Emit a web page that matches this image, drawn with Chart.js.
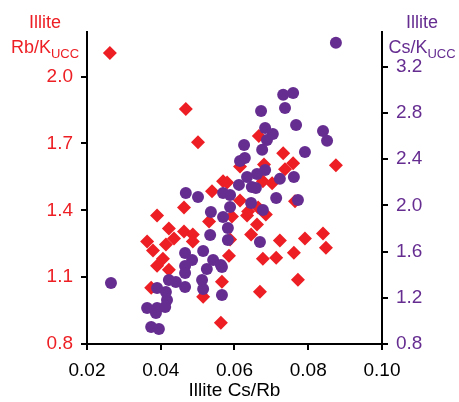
<!DOCTYPE html>
<html>
<head>
<meta charset="utf-8">
<script src="https://cdn.jsdelivr.net/npm/chart.js@4"></script>
<style>
  body { margin: 0; background: #fff; }
  #wrap { position: relative; width: 459px; height: 402px; }
  .ytitle { position: absolute; font-family: "Liberation Sans", Arial, sans-serif; font-size: 18px; line-height: 25px; text-align: center; }
  .ytitle sub { font-size: 13px; vertical-align: -5px; line-height: 0; }
</style>
</head>
<body>
<div id="wrap">
  <canvas id="chart" width="459" height="402"></canvas>
  <div class="ytitle" style="left:-3px; top:10px; width:96px; color:#ed1f24;">Illite<br>Rb/K<sub>UCC</sub></div>
  <div class="ytitle" style="left:382px; top:10px; width:80px; color:#662d91;">Illite<br>Cs/K<sub>UCC</sub></div>
</div>
<script>
var RED = "#ed1f24";
var PURPLE = "#662d91";

// Illite Cs/Rb vs Rb/K_UCC (left axis, diamonds)
var rbX = [0.0262, 0.0468, 0.0501, 0.0569, 0.0539, 0.0463, 0.0390, 0.0422, 0.0363, 0.0379,
           0.0414, 0.0436, 0.0463, 0.0487, 0.0406, 0.0390, 0.0422, 0.0374, 0.0566, 0.0515,
           0.0563, 0.0531, 0.0487, 0.0666, 0.0732, 0.0680, 0.0759, 0.0737, 0.0875, 0.0615,
           0.0677, 0.0702, 0.0791, 0.0840, 0.0848, 0.0723, 0.0761, 0.0677, 0.0713, 0.0772,
           0.0669, 0.0585, 0.0645, 0.0661, 0.0634, 0.0685, 0.0764, 0.0588, 0.0615, 0.0664,
           0.0637, 0.0580, 0.0593];
var rbY = [2.106, 1.854, 1.705, 1.530, 1.485, 1.413, 1.377, 1.318, 1.260, 1.219,
           1.246, 1.273, 1.305, 1.291, 1.183, 1.151, 1.133, 1.052, 1.079, 1.012,
           0.895, 1.350, 1.260, 1.733, 1.656, 1.606, 1.611, 1.584, 1.602, 1.597,
           1.530, 1.521, 1.273, 1.296, 1.232, 1.264, 1.210, 1.183, 1.187, 1.088,
           1.034, 1.196, 1.291, 1.336, 1.377, 1.381, 1.440, 1.269, 1.444, 1.413,
           1.395, 1.525, 1.372];

// Illite Cs/Rb vs Cs/K_UCC (right axis, circles)
var csX = [0.0265, 0.0875, 0.0732, 0.0759, 0.0672, 0.0737, 0.0767, 0.0683, 0.0704, 0.0688,
           0.0675, 0.0626, 0.0840, 0.0851, 0.0791, 0.0628, 0.0615, 0.0634, 0.0661, 0.0683,
           0.0723, 0.0761, 0.0612, 0.0647, 0.0468, 0.0501, 0.0569, 0.0536, 0.0569, 0.0534,
           0.0588, 0.0588, 0.0582, 0.0582, 0.0658, 0.0713, 0.0772, 0.0677, 0.0645, 0.0669,
           0.0566, 0.0566, 0.0466, 0.0515, 0.0485, 0.0542, 0.0563, 0.0466, 0.0525, 0.0512,
           0.0466, 0.0422, 0.0441, 0.0466, 0.0515, 0.0390, 0.0414, 0.0417, 0.0363, 0.0390,
           0.0412, 0.0387, 0.0374, 0.0395];
var csY = [1.328, 3.406, 2.956, 2.973, 2.817, 2.843, 2.696, 2.670, 2.618, 2.566,
           2.480, 2.523, 2.644, 2.558, 2.462, 2.410, 2.384, 2.246, 2.272, 2.306,
           2.229, 2.246, 2.177, 2.159, 2.107, 2.073, 2.107, 1.943, 1.900, 1.744,
           2.090, 1.986, 1.804, 1.700, 2.151, 2.064, 2.047, 1.960, 2.021, 1.683,
           1.467, 1.224, 1.588, 1.605, 1.527, 1.527, 1.484, 1.475, 1.449, 1.354,
           1.415, 1.354, 1.337, 1.294, 1.276, 1.285, 1.250, 1.181, 1.112, 1.112,
           1.120, 1.068, 0.947, 0.930];

var xTicks = [0.02, 0.04, 0.06, 0.08, 0.10];
var leftTicks = [0.8, 1.1, 1.4, 1.7, 2.0];
var rightTicks = [0.8, 1.2, 1.6, 2.0, 2.4, 2.8, 3.2];

function pts(xs, ys) {
    var out = [];
    for (var i = 0; i < xs.length; i++) out.push({x: xs[i], y: ys[i]});
    return out;
}

function fixTicks(list) {
    return function(scale) {
        scale.ticks = list.map(function(v){ return {value: v}; });
    };
}

var font = {family: "'Liberation Sans', Arial, sans-serif", size: 19};
var axisGrid = {drawOnChartArea: false, drawTicks: true, tickLength: 6, color: "#000", lineWidth: 2};
var axisBorder = {display: true, color: "#000", width: 2};

var ctx = document.getElementById("chart").getContext("2d");
var chart = new Chart(ctx, {
    type: "scatter",
    data: {
        datasets: [{
            label: "Cs/K UCC",
            data: pts(csX, csY),
            yAxisID: "yR",
            pointStyle: "circle",
            pointRadius: 6,
            pointHoverRadius: 6,
            backgroundColor: PURPLE,
            borderColor: PURPLE,
            borderWidth: 0
        }, {
            label: "Rb/K UCC",
            data: pts(rbX, rbY),
            yAxisID: "yL",
            pointStyle: "rectRot",
            pointRadius: 7,
            pointHoverRadius: 7,
            backgroundColor: RED,
            borderColor: RED,
            borderWidth: 0
        }]
    },
    options: {
        responsive: false,
        animation: false,
        layout: {padding: {top: 32, left: 0, right: 0, bottom: 0}},
        plugins: {legend: {display: false}, tooltip: {enabled: false}},
        scales: {
            x: {
                type: "linear",
                min: 0.02, max: 0.10,
                afterBuildTicks: fixTicks(xTicks),
                afterFit: function(s){ s.height = 58; },
                grid: axisGrid,
                border: axisBorder,
                ticks: {color: "#000", font: font, padding: 9, maxRotation: 0,
                        callback: function(v){ return v.toFixed(2); }},
                title: {display: true, text: "Illite Cs/Rb", color: "#000", font: font, padding: {top: 0, bottom: 0}}
            },
            yL: {
                type: "linear",
                position: "left",
                min: 0.8, max: 2.2,
                afterBuildTicks: fixTicks(leftTicks),
                afterFit: function(s){ s.width = 87; },
                grid: axisGrid,
                border: axisBorder,
                ticks: {color: RED, font: font, padding: 8,
                        callback: function(v){ return v.toFixed(1); }}
            },
            yR: {
                type: "linear",
                position: "right",
                min: 0.8, max: 3.5,
                afterBuildTicks: fixTicks(rightTicks),
                afterFit: function(s){ s.width = 77; },
                grid: axisGrid,
                border: axisBorder,
                ticks: {color: PURPLE, font: font, padding: 8,
                        callback: function(v){ return v.toFixed(1); }}
            }
        }
    }
});
</script>
</body>
</html>
